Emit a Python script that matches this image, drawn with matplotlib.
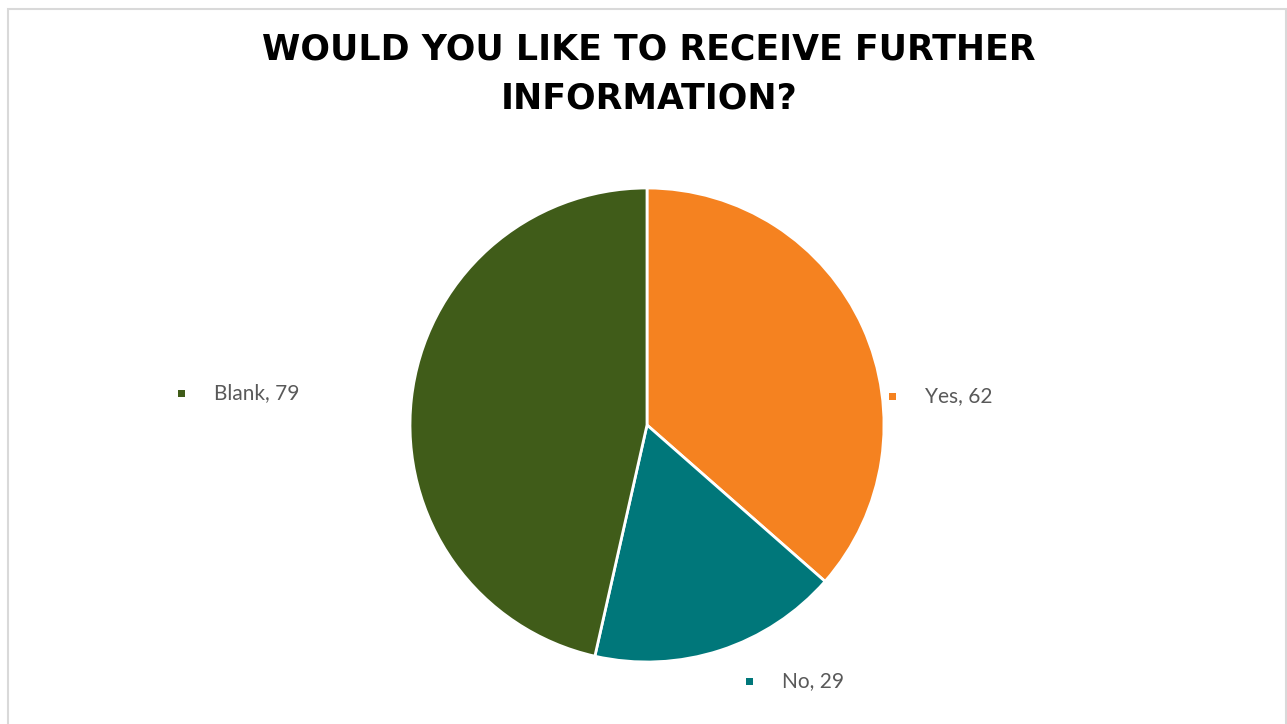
import matplotlib
matplotlib.use("Agg")
import matplotlib.pyplot as plt
from matplotlib.patches import Rectangle

# Survey responses
categories = ["Yes", "No", "Blank"]
counts = [62, 29, 79]
colors = ["#F58220", "#00777A", "#405C19"]

W, H = 1287, 724
fig = plt.figure(figsize=(W / 100, H / 100), dpi=100)
ax = fig.add_axes([0, 0, 1, 1])

cx, cy, r = 647, H - 425, 237
wedges, _ = ax.pie(counts, colors=colors, startangle=90, counterclock=False,
                   radius=r, center=(cx, cy), frame=True,
                   wedgeprops=dict(edgecolor="white", linewidth=2))
ax.set_xlim(0, W)
ax.set_ylim(0, H)
ax.set_aspect("auto")
ax.axis("off")

# Light frame around the chart area
frame = Rectangle((8, -10), W - 9.5, H - 8.5 + 10, fill=False,
                  edgecolor="#D9D9D9", linewidth=1.5)
ax.add_patch(frame)

fig.text(649 / W, 1 - 74 / H, "WOULD YOU LIKE TO RECEIVE FURTHER\nINFORMATION?",
         ha="center", va="center", fontsize=25, fontweight="bold",
         family="DejaVu Sans", color="black", linespacing=1.55)

# Data labels with legend keys
label_pos = {"Yes": (925, 396), "No": (782, 681), "Blank": (214, 393)}
for cat, val, col in zip(categories, counts, colors):
    tx, ty = label_pos[cat]
    ax.add_patch(Rectangle((tx - 36, H - ty - 3.5), 7, 7, facecolor=col,
                           edgecolor="none"))
    ax.text(tx, H - ty, f"{cat}, {val}", ha="left", va="center",
            fontsize=15, family="Lato", color="#595959")

fig.savefig("out.png", dpi=100, facecolor="white")
